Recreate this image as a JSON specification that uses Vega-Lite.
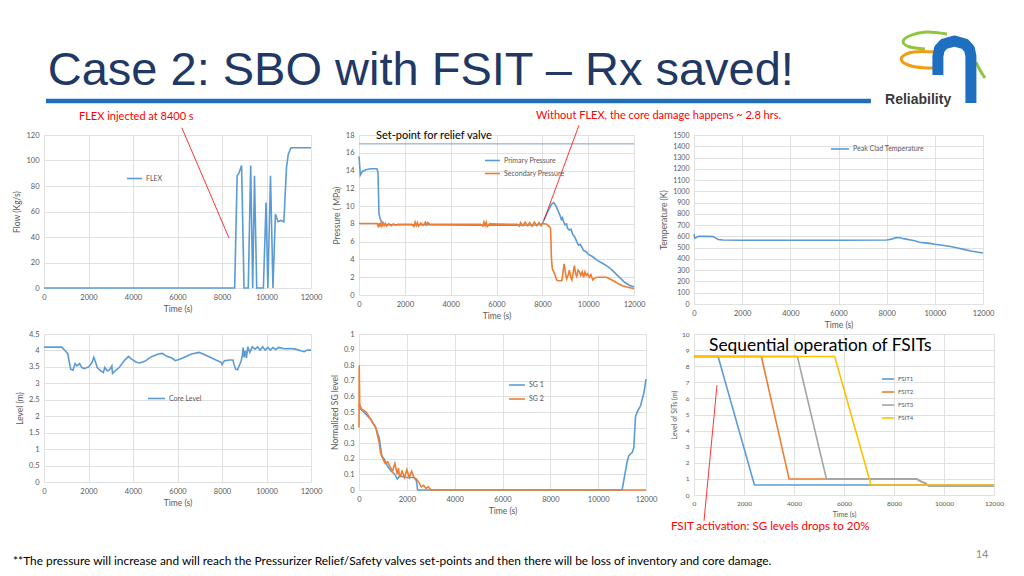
{
  "$schema": "https://vega.github.io/schema/vega-lite/v6.json",
  "background": "white",
  "padding": {"left": 12, "top": 25, "right": 5, "bottom": 5},
  "config": {
    "view": {"stroke": null},
    "axis": {"labelFont": "Lato", "titleFont": "Lato", "labelFontSize": 7.5, "titleFontSize": 8.5, "labelColor": "#595959", "titleColor": "#595959", "titleFontWeight": "normal", "gridColor": "#D9D9D9", "gridWidth": 0.8, "domain": false, "ticks": false, "labelPadding": 5, "labelFlush": false, "labelOverlap": false, "titlePadding": 4},
    "legend": {"labelFont": "Lato", "labelFontSize": 7, "labelColor": "#595959", "symbolType": "stroke", "symbolStrokeWidth": 2, "padding": 0, "labelOffset": 3},
    "line": {"strokeWidth": 1.6}
  },
  "bounds": "flush",
  "columns": 3,
  "spacing": {"row": 30, "column": 48},
  "resolve": {"scale": {"color": "independent"}, "legend": {"color": "independent"}},
  "concat": [
    {
      "width": 267, "height": 75,
      "layer": [
        {
          "data": {"values": [{"x": 0.0075, "x2": 3.097, "y": 0.053}]},
          "mark": {"type": "rule", "color": "#1E6EB8", "strokeWidth": 4.5},
          "encoding": {
            "x": {"field": "x", "type": "quantitative", "scale": {"domain": [0, 1]}, "axis": null},
            "x2": {"field": "x2"},
            "y": {"field": "y", "type": "quantitative", "scale": {"domain": [0, 1]}, "axis": null}
          }
        },
        {
          "data": {"values": [{"x": 0.014, "y": 0.267, "label": "Case 2: SBO with FSIT – Rx saved!"}]},
          "mark": {"type": "text", "align": "left", "baseline": "alphabetic", "font": "Liberation Sans", "fontSize": 47, "color": "#1F3864"},
          "encoding": {
            "x": {"field": "x", "type": "quantitative", "scale": {"domain": [0, 1]}, "axis": null},
            "y": {"field": "y", "type": "quantitative", "scale": {"domain": [0, 1]}, "axis": null},
            "text": {"field": "label"}
          }
        }
      ]
    },
    {
      "width": 10, "height": 10,
      "data": {"values": []},
      "mark": "point"
    },
    {
      "width": 300, "height": 75,
      "layer": [
        {
          "data": {"values": [
            {"k": "g", "i": 1, "x": 0.843, "y": 0.947}, {"k": "g", "i": 2, "x": 0.773, "y": 0.973}, {"k": "g", "i": 3, "x": 0.717, "y": 0.92}, {"k": "g", "i": 4, "x": 0.697, "y": 0.84}, {"k": "g", "i": 5, "x": 0.72, "y": 0.773}, {"k": "g", "i": 6, "x": 0.77, "y": 0.747},
            {"k": "g2", "i": 1, "x": 0.94, "y": 0.573}, {"k": "g2", "i": 2, "x": 0.953, "y": 0.467}, {"k": "g2", "i": 3, "x": 0.97, "y": 0.36}
          ]},
          "mark": {"type": "line", "color": "#8DC63F", "strokeWidth": 3, "interpolate": "cardinal"},
          "encoding": {
            "x": {"field": "x", "type": "quantitative", "scale": {"domain": [0, 1]}, "axis": null},
            "y": {"field": "y", "type": "quantitative", "scale": {"domain": [0, 1]}, "axis": null},
            "detail": {"field": "k"},
            "order": {"field": "i"}
          }
        },
        {
          "data": {"values": [
            {"i": 1, "x": 0.803, "y": 0.707}, {"i": 2, "x": 0.733, "y": 0.707}, {"i": 3, "x": 0.693, "y": 0.64}, {"i": 4, "x": 0.7, "y": 0.56}, {"i": 5, "x": 0.74, "y": 0.507}, {"i": 6, "x": 0.8, "y": 0.493}
          ]},
          "mark": {"type": "line", "color": "#F39C12", "strokeWidth": 3, "interpolate": "cardinal"},
          "encoding": {
            "x": {"field": "x", "type": "quantitative", "scale": {"domain": [0, 1]}, "axis": null},
            "y": {"field": "y", "type": "quantitative", "scale": {"domain": [0, 1]}, "axis": null},
            "order": {"field": "i"}
          }
        },
        {
          "data": {"values": [
            {"i": 1, "x": 0.813, "y": 0.4}, {"i": 2, "x": 0.813, "y": 0.653}, {"i": 3, "x": 0.818, "y": 0.747}, {"i": 4, "x": 0.833, "y": 0.813}, {"i": 5, "x": 0.868, "y": 0.853}, {"i": 6, "x": 0.903, "y": 0.813}, {"i": 7, "x": 0.918, "y": 0.747}, {"i": 8, "x": 0.923, "y": 0.653}, {"i": 9, "x": 0.923, "y": 0.027}
          ]},
          "mark": {"type": "line", "color": "#1F6FC0", "strokeWidth": 11, "strokeJoin": "round"},
          "encoding": {
            "x": {"field": "x", "type": "quantitative", "scale": {"domain": [0, 1]}, "axis": null},
            "y": {"field": "y", "type": "quantitative", "scale": {"domain": [0, 1]}, "axis": null},
            "order": {"field": "i"}
          }
        },
        {
          "data": {"values": [{"x": 0.747, "y": 0.067, "label": "Reliability"}]},
          "mark": {"type": "text", "align": "center", "baseline": "middle", "font": "Liberation Sans", "fontWeight": "bold", "fontSize": 14, "color": "#3A3A3A"},
          "encoding": {
            "x": {"field": "x", "type": "quantitative", "scale": {"domain": [0, 1]}, "axis": null},
            "y": {"field": "y", "type": "quantitative", "scale": {"domain": [0, 1]}, "axis": null},
            "text": {"field": "label"}
          }
        }
      ]
    },
    {
      "width": 267, "height": 153,
      "layer": [
        {
          "data": {"values": [
            {"s": "FLEX", "t": 0, "v": 0}, {"s": "FLEX", "t": 8570, "v": 0}, {"s": "FLEX", "t": 8680, "v": 88}, {"s": "FLEX", "t": 8760, "v": 90}, {"s": "FLEX", "t": 8880, "v": 96}, {"s": "FLEX", "t": 8990, "v": 0}, {"s": "FLEX", "t": 9180, "v": 0}, {"s": "FLEX", "t": 9290, "v": 96}, {"s": "FLEX", "t": 9380, "v": 0}, {"s": "FLEX", "t": 9460, "v": 88}, {"s": "FLEX", "t": 9560, "v": 0}, {"s": "FLEX", "t": 9860, "v": 0}, {"s": "FLEX", "t": 9980, "v": 67}, {"s": "FLEX", "t": 10060, "v": 0}, {"s": "FLEX", "t": 10180, "v": 88}, {"s": "FLEX", "t": 10290, "v": 0}, {"s": "FLEX", "t": 10400, "v": 58}, {"s": "FLEX", "t": 10520, "v": 52}, {"s": "FLEX", "t": 10650, "v": 53}, {"s": "FLEX", "t": 10780, "v": 52}, {"s": "FLEX", "t": 10900, "v": 95}, {"s": "FLEX", "t": 10980, "v": 105}, {"s": "FLEX", "t": 11100, "v": 110}, {"s": "FLEX", "t": 12000, "v": 110}
          ]},
          "mark": {"type": "line"},
          "encoding": {
            "x": {"field": "t", "type": "quantitative", "scale": {"domain": [0, 12000], "nice": false}, "axis": {"values": [0, 2000, 4000, 6000, 8000, 10000, 12000], "format": "d", "title": "Time (s)"}},
            "y": {"field": "v", "type": "quantitative", "scale": {"domain": [0, 120], "nice": false}, "axis": {"values": [0, 20, 40, 60, 80, 100, 120], "title": "Flow (Kg/s)"}},
            "color": {"field": "s", "type": "nominal", "scale": {"domain": ["FLEX"], "range": ["#5B9BD5"]}, "legend": {"title": null, "orient": "none", "legendX": 82, "legendY": 35, "symbolSize": 225}}
          }
        },
        {
          "data": {"values": [{"t": 6200, "v": 125.5, "t2": 8315, "v2": 39.2}]},
          "mark": {"type": "rule", "color": "#FF0000", "strokeWidth": 0.8},
          "encoding": {
            "x": {"field": "t", "type": "quantitative", "scale": {"domain": [0, 12000], "nice": false}, "axis": {"values": [0, 2000, 4000, 6000, 8000, 10000, 12000], "format": "d", "title": "Time (s)"}},
            "y": {"field": "v", "type": "quantitative", "scale": {"domain": [0, 120], "nice": false}, "axis": {"values": [0, 20, 40, 60, 80, 100, 120], "title": "Flow (Kg/s)"}},
            "x2": {"field": "t2"}, "y2": {"field": "v2"}
          }
        },
        {
          "data": {"values": [{"t": 1573, "v": 134.1, "label": "FLEX injected at 8400 s"}]},
          "mark": {"type": "text", "align": "left", "baseline": "middle", "font": "Lato", "fontSize": 11, "color": "#FF0000"},
          "encoding": {
            "x": {"field": "t", "type": "quantitative", "scale": {"domain": [0, 12000], "nice": false}, "axis": {"values": [0, 2000, 4000, 6000, 8000, 10000, 12000], "format": "d", "title": "Time (s)"}},
            "y": {"field": "v", "type": "quantitative", "scale": {"domain": [0, 120], "nice": false}, "axis": {"values": [0, 20, 40, 60, 80, 100, 120], "title": "Flow (Kg/s)"}},
            "text": {"field": "label"}
          }
        }
      ]
    },
    {
      "width": 275, "height": 160,
      "resolve": {"scale": {"color": "independent"}, "legend": {"color": "independent"}},
      "layer": [
        {
          "data": {"values": [{"p": 17}]},
          "mark": {"type": "rule", "color": "#7F9FBF", "strokeWidth": 1},
          "encoding": {"y": {"field": "p", "type": "quantitative", "scale": {"domain": [0, 18], "nice": false}, "axis": {"values": [0, 2, 4, 6, 8, 10, 12, 14, 16, 18], "title": "Pressure ( MPa)"}}}
        },
        {
          "data": {"values": [
            {"s": "Primary Pressure", "t": 0, "v": 15.6}, {"s": "Primary Pressure", "t": 60, "v": 13.5}, {"s": "Primary Pressure", "t": 150, "v": 13.9}, {"s": "Primary Pressure", "t": 300, "v": 14.1}, {"s": "Primary Pressure", "t": 500, "v": 14.2}, {"s": "Primary Pressure", "t": 780, "v": 14.2}, {"s": "Primary Pressure", "t": 830, "v": 13.8}, {"s": "Primary Pressure", "t": 870, "v": 9.2}, {"s": "Primary Pressure", "t": 920, "v": 8.6}, {"s": "Primary Pressure", "t": 1000, "v": 8.2}, {"s": "Primary Pressure", "t": 1100, "v": 7.95}, {"s": "Primary Pressure", "t": 1500, "v": 7.9}, {"s": "Primary Pressure", "t": 3000, "v": 7.9}, {"s": "Primary Pressure", "t": 5000, "v": 7.85}, {"s": "Primary Pressure", "t": 7000, "v": 7.85}, {"s": "Primary Pressure", "t": 7900, "v": 7.9}, {"s": "Primary Pressure", "t": 8000, "v": 8.0}, {"s": "Primary Pressure", "t": 8050, "v": 8.3}, {"s": "Primary Pressure", "t": 8200, "v": 9.2}, {"s": "Primary Pressure", "t": 8400, "v": 10.2}, {"s": "Primary Pressure", "t": 8500, "v": 10.4}, {"s": "Primary Pressure", "t": 8600, "v": 10.0}, {"s": "Primary Pressure", "t": 8700, "v": 9.4}, {"s": "Primary Pressure", "t": 8780, "v": 8.9}, {"s": "Primary Pressure", "t": 8830, "v": 8.5}, {"s": "Primary Pressure", "t": 8880, "v": 8.7}, {"s": "Primary Pressure", "t": 8920, "v": 8.3}, {"s": "Primary Pressure", "t": 8990, "v": 7.9}, {"s": "Primary Pressure", "t": 9060, "v": 8.0}, {"s": "Primary Pressure", "t": 9100, "v": 7.5}, {"s": "Primary Pressure", "t": 9180, "v": 7.3}, {"s": "Primary Pressure", "t": 9250, "v": 7.4}, {"s": "Primary Pressure", "t": 9330, "v": 6.8}, {"s": "Primary Pressure", "t": 9420, "v": 6.5}, {"s": "Primary Pressure", "t": 9500, "v": 6.0}, {"s": "Primary Pressure", "t": 9580, "v": 5.6}, {"s": "Primary Pressure", "t": 9650, "v": 5.7}, {"s": "Primary Pressure", "t": 9720, "v": 5.4}, {"s": "Primary Pressure", "t": 9800, "v": 5.0}, {"s": "Primary Pressure", "t": 9900, "v": 4.9}, {"s": "Primary Pressure", "t": 10000, "v": 4.6}, {"s": "Primary Pressure", "t": 10200, "v": 4.3}, {"s": "Primary Pressure", "t": 10400, "v": 3.9}, {"s": "Primary Pressure", "t": 10600, "v": 3.6}, {"s": "Primary Pressure", "t": 10800, "v": 3.3}, {"s": "Primary Pressure", "t": 11000, "v": 2.9}, {"s": "Primary Pressure", "t": 11200, "v": 2.4}, {"s": "Primary Pressure", "t": 11400, "v": 1.9}, {"s": "Primary Pressure", "t": 11600, "v": 1.4}, {"s": "Primary Pressure", "t": 11800, "v": 1.1}, {"s": "Primary Pressure", "t": 12000, "v": 0.9},
            {"s": "Secondary Pressure", "t": 0, "v": 8.05}, {"s": "Secondary Pressure", "t": 800, "v": 8.05}, {"s": "Secondary Pressure", "t": 850, "v": 7.6}, {"s": "Secondary Pressure", "t": 880, "v": 8.1}, {"s": "Secondary Pressure", "t": 920, "v": 7.7}, {"s": "Secondary Pressure", "t": 960, "v": 8.1}, {"s": "Secondary Pressure", "t": 1000, "v": 7.75}, {"s": "Secondary Pressure", "t": 1050, "v": 8.1}, {"s": "Secondary Pressure", "t": 1100, "v": 7.8}, {"s": "Secondary Pressure", "t": 1150, "v": 8.05}, {"s": "Secondary Pressure", "t": 1200, "v": 7.75}, {"s": "Secondary Pressure", "t": 1300, "v": 8.0}, {"s": "Secondary Pressure", "t": 1400, "v": 7.8}, {"s": "Secondary Pressure", "t": 1500, "v": 8.0}, {"s": "Secondary Pressure", "t": 1600, "v": 7.85}, {"s": "Secondary Pressure", "t": 1700, "v": 7.95}, {"s": "Secondary Pressure", "t": 2300, "v": 7.95}, {"s": "Secondary Pressure", "t": 2400, "v": 7.7}, {"s": "Secondary Pressure", "t": 2450, "v": 8.2}, {"s": "Secondary Pressure", "t": 2500, "v": 7.8}, {"s": "Secondary Pressure", "t": 2550, "v": 8.15}, {"s": "Secondary Pressure", "t": 2600, "v": 7.75}, {"s": "Secondary Pressure", "t": 2700, "v": 8.1}, {"s": "Secondary Pressure", "t": 2800, "v": 7.85}, {"s": "Secondary Pressure", "t": 2900, "v": 8.2}, {"s": "Secondary Pressure", "t": 2950, "v": 7.9}, {"s": "Secondary Pressure", "t": 3000, "v": 8.15}, {"s": "Secondary Pressure", "t": 3100, "v": 7.95}, {"s": "Secondary Pressure", "t": 5300, "v": 7.95}, {"s": "Secondary Pressure", "t": 5400, "v": 7.75}, {"s": "Secondary Pressure", "t": 5450, "v": 8.2}, {"s": "Secondary Pressure", "t": 5500, "v": 7.8}, {"s": "Secondary Pressure", "t": 5550, "v": 8.2}, {"s": "Secondary Pressure", "t": 5600, "v": 7.7}, {"s": "Secondary Pressure", "t": 5700, "v": 8.0}, {"s": "Secondary Pressure", "t": 6900, "v": 7.95}, {"s": "Secondary Pressure", "t": 7000, "v": 7.75}, {"s": "Secondary Pressure", "t": 7050, "v": 8.15}, {"s": "Secondary Pressure", "t": 7150, "v": 7.8}, {"s": "Secondary Pressure", "t": 7250, "v": 8.2}, {"s": "Secondary Pressure", "t": 7350, "v": 7.8}, {"s": "Secondary Pressure", "t": 7450, "v": 8.15}, {"s": "Secondary Pressure", "t": 7550, "v": 7.75}, {"s": "Secondary Pressure", "t": 7650, "v": 8.2}, {"s": "Secondary Pressure", "t": 7750, "v": 7.8}, {"s": "Secondary Pressure", "t": 7850, "v": 8.15}, {"s": "Secondary Pressure", "t": 7950, "v": 7.8}, {"s": "Secondary Pressure", "t": 8000, "v": 8.05}, {"s": "Secondary Pressure", "t": 8200, "v": 7.95}, {"s": "Secondary Pressure", "t": 8300, "v": 7.7}, {"s": "Secondary Pressure", "t": 8360, "v": 7.5}, {"s": "Secondary Pressure", "t": 8400, "v": 4.0}, {"s": "Secondary Pressure", "t": 8440, "v": 2.9}, {"s": "Secondary Pressure", "t": 8500, "v": 2.6}, {"s": "Secondary Pressure", "t": 8560, "v": 2.2}, {"s": "Secondary Pressure", "t": 8620, "v": 1.7}, {"s": "Secondary Pressure", "t": 8700, "v": 1.6}, {"s": "Secondary Pressure", "t": 8850, "v": 1.6}, {"s": "Secondary Pressure", "t": 8950, "v": 3.5}, {"s": "Secondary Pressure", "t": 9020, "v": 2.3}, {"s": "Secondary Pressure", "t": 9060, "v": 1.8}, {"s": "Secondary Pressure", "t": 9120, "v": 2.2}, {"s": "Secondary Pressure", "t": 9180, "v": 2.8}, {"s": "Secondary Pressure", "t": 9240, "v": 2.0}, {"s": "Secondary Pressure", "t": 9290, "v": 1.7}, {"s": "Secondary Pressure", "t": 9350, "v": 2.6}, {"s": "Secondary Pressure", "t": 9400, "v": 3.3}, {"s": "Secondary Pressure", "t": 9450, "v": 2.4}, {"s": "Secondary Pressure", "t": 9500, "v": 2.1}, {"s": "Secondary Pressure", "t": 9560, "v": 2.8}, {"s": "Secondary Pressure", "t": 9620, "v": 2.6}, {"s": "Secondary Pressure", "t": 9680, "v": 2.2}, {"s": "Secondary Pressure", "t": 9740, "v": 2.6}, {"s": "Secondary Pressure", "t": 9800, "v": 2.0}, {"s": "Secondary Pressure", "t": 9860, "v": 2.6}, {"s": "Secondary Pressure", "t": 9920, "v": 2.2}, {"s": "Secondary Pressure", "t": 9980, "v": 2.4}, {"s": "Secondary Pressure", "t": 10050, "v": 2.0}, {"s": "Secondary Pressure", "t": 10120, "v": 2.3}, {"s": "Secondary Pressure", "t": 10200, "v": 1.7}, {"s": "Secondary Pressure", "t": 10280, "v": 1.9}, {"s": "Secondary Pressure", "t": 10400, "v": 2.0}, {"s": "Secondary Pressure", "t": 10800, "v": 2.0}, {"s": "Secondary Pressure", "t": 10950, "v": 1.8}, {"s": "Secondary Pressure", "t": 11100, "v": 1.6}, {"s": "Secondary Pressure", "t": 11300, "v": 1.3}, {"s": "Secondary Pressure", "t": 11500, "v": 1.05}, {"s": "Secondary Pressure", "t": 11700, "v": 0.9}, {"s": "Secondary Pressure", "t": 12000, "v": 0.7}
          ]},
          "mark": {"type": "line"},
          "encoding": {
            "x": {"field": "t", "type": "quantitative", "scale": {"domain": [0, 12000], "nice": false}, "axis": {"values": [0, 2000, 4000, 6000, 8000, 10000, 12000], "format": "d", "title": "Time (s)"}},
            "y": {"field": "v", "type": "quantitative", "scale": {"domain": [0, 18], "nice": false}, "axis": {"values": [0, 2, 4, 6, 8, 10, 12, 14, 16, 18], "title": "Pressure ( MPa)"}},
            "color": {"field": "s", "type": "nominal", "scale": {"domain": ["Primary Pressure", "Secondary Pressure"], "range": ["#5B9BD5", "#ED7D31"]}, "legend": {"title": null, "orient": "none", "legendX": 125, "legendY": 17, "symbolSize": 225, "rowPadding": 1}}
          }
        },
        {
          "data": {"values": [{"t": 9600, "v": 19.1, "t2": 8073, "v2": 8.44}]},
          "mark": {"type": "rule", "color": "#FF0000", "strokeWidth": 0.8},
          "encoding": {
            "x": {"field": "t", "type": "quantitative", "scale": {"domain": [0, 12000], "nice": false}, "axis": {"values": [0, 2000, 4000, 6000, 8000, 10000, 12000], "format": "d", "title": "Time (s)"}},
            "y": {"field": "v", "type": "quantitative", "scale": {"domain": [0, 18], "nice": false}, "axis": {"values": [0, 2, 4, 6, 8, 10, 12, 14, 16, 18], "title": "Pressure ( MPa)"}},
            "x2": {"field": "t2"}, "y2": {"field": "v2"}
          }
        },
        {
          "data": {"values": [{"t": 7724, "v": 20.1, "label": "Without FLEX, the core damage happens ~ 2.8 hrs.", "c": "red"}, {"t": 742, "v": 17.9, "label": "Set-point for relief valve", "c": "black"}]},
          "mark": {"type": "text", "align": "left", "baseline": "middle", "font": "Lato", "fontSize": 11},
          "encoding": {
            "x": {"field": "t", "type": "quantitative", "scale": {"domain": [0, 12000], "nice": false}, "axis": {"values": [0, 2000, 4000, 6000, 8000, 10000, 12000], "format": "d", "title": "Time (s)"}},
            "y": {"field": "v", "type": "quantitative", "scale": {"domain": [0, 18], "nice": false}, "axis": {"values": [0, 2, 4, 6, 8, 10, 12, 14, 16, 18], "title": "Pressure ( MPa)"}},
            "text": {"field": "label"},
            "color": {"field": "c", "type": "nominal", "scale": {"domain": ["red", "black"], "range": ["#FF0000", "#000000"]}, "legend": null}
          }
        }
      ]
    },
    {
      "width": 289, "height": 169,
      "layer": [
        {
          "data": {"values": [
            {"s": "Peak Clad Temperature", "t": 0, "v": 620}, {"s": "Peak Clad Temperature", "t": 30, "v": 585}, {"s": "Peak Clad Temperature", "t": 100, "v": 590}, {"s": "Peak Clad Temperature", "t": 200, "v": 600}, {"s": "Peak Clad Temperature", "t": 500, "v": 600}, {"s": "Peak Clad Temperature", "t": 800, "v": 598}, {"s": "Peak Clad Temperature", "t": 900, "v": 585}, {"s": "Peak Clad Temperature", "t": 1000, "v": 572}, {"s": "Peak Clad Temperature", "t": 1200, "v": 568}, {"s": "Peak Clad Temperature", "t": 2000, "v": 566}, {"s": "Peak Clad Temperature", "t": 4000, "v": 566}, {"s": "Peak Clad Temperature", "t": 6000, "v": 566}, {"s": "Peak Clad Temperature", "t": 8000, "v": 568}, {"s": "Peak Clad Temperature", "t": 8200, "v": 576}, {"s": "Peak Clad Temperature", "t": 8400, "v": 590}, {"s": "Peak Clad Temperature", "t": 8550, "v": 588}, {"s": "Peak Clad Temperature", "t": 8700, "v": 580}, {"s": "Peak Clad Temperature", "t": 9000, "v": 568}, {"s": "Peak Clad Temperature", "t": 9200, "v": 560}, {"s": "Peak Clad Temperature", "t": 9350, "v": 548}, {"s": "Peak Clad Temperature", "t": 9500, "v": 545}, {"s": "Peak Clad Temperature", "t": 9800, "v": 538}, {"s": "Peak Clad Temperature", "t": 10000, "v": 530}, {"s": "Peak Clad Temperature", "t": 10300, "v": 522}, {"s": "Peak Clad Temperature", "t": 10600, "v": 512}, {"s": "Peak Clad Temperature", "t": 10900, "v": 500}, {"s": "Peak Clad Temperature", "t": 11200, "v": 485}, {"s": "Peak Clad Temperature", "t": 11500, "v": 470}, {"s": "Peak Clad Temperature", "t": 11800, "v": 460}, {"s": "Peak Clad Temperature", "t": 12000, "v": 452}
          ]},
          "mark": {"type": "line"},
          "encoding": {
            "x": {"field": "t", "type": "quantitative", "scale": {"domain": [0, 12000], "nice": false}, "axis": {"values": [0, 2000, 4000, 6000, 8000, 10000, 12000], "format": "d", "title": "Time (s)"}},
            "y": {"field": "v", "type": "quantitative", "scale": {"domain": [0, 1500], "nice": false}, "axis": {"values": [0, 100, 200, 300, 400, 500, 600, 700, 800, 900, 1000, 1100, 1200, 1300, 1400, 1500], "format": "d", "title": "Temperature (K)", "labelFontSize": 7}},
            "color": {"field": "s", "type": "nominal", "scale": {"domain": ["Peak Clad Temperature"], "range": ["#5B9BD5"]}, "legend": {"title": null, "orient": "none", "legendX": 136, "legendY": 4, "symbolSize": 324}}
          }
        }
      ]
    },
    {
      "width": 267, "height": 148,
      "layer": [
        {
          "data": {"values": [
            {"s": "Core Level", "t": 0, "v": 4.1}, {"s": "Core Level", "t": 800, "v": 4.1}, {"s": "Core Level", "t": 940, "v": 4.0}, {"s": "Core Level", "t": 1070, "v": 3.9}, {"s": "Core Level", "t": 1140, "v": 3.64}, {"s": "Core Level", "t": 1200, "v": 3.43}, {"s": "Core Level", "t": 1300, "v": 3.4}, {"s": "Core Level", "t": 1400, "v": 3.6}, {"s": "Core Level", "t": 1480, "v": 3.53}, {"s": "Core Level", "t": 1600, "v": 3.6}, {"s": "Core Level", "t": 1700, "v": 3.48}, {"s": "Core Level", "t": 1810, "v": 3.45}, {"s": "Core Level", "t": 2010, "v": 3.5}, {"s": "Core Level", "t": 2160, "v": 3.64}, {"s": "Core Level", "t": 2240, "v": 3.79}, {"s": "Core Level", "t": 2320, "v": 3.64}, {"s": "Core Level", "t": 2390, "v": 3.48}, {"s": "Core Level", "t": 2550, "v": 3.38}, {"s": "Core Level", "t": 2670, "v": 3.33}, {"s": "Core Level", "t": 2730, "v": 3.48}, {"s": "Core Level", "t": 2850, "v": 3.38}, {"s": "Core Level", "t": 2970, "v": 3.43}, {"s": "Core Level", "t": 3050, "v": 3.53}, {"s": "Core Level", "t": 3080, "v": 3.3}, {"s": "Core Level", "t": 3230, "v": 3.4}, {"s": "Core Level", "t": 3380, "v": 3.48}, {"s": "Core Level", "t": 3610, "v": 3.69}, {"s": "Core Level", "t": 3800, "v": 3.82}, {"s": "Core Level", "t": 3920, "v": 3.74}, {"s": "Core Level", "t": 4150, "v": 3.64}, {"s": "Core Level", "t": 4300, "v": 3.62}, {"s": "Core Level", "t": 4530, "v": 3.67}, {"s": "Core Level", "t": 4830, "v": 3.81}, {"s": "Core Level", "t": 5140, "v": 3.89}, {"s": "Core Level", "t": 5320, "v": 3.91}, {"s": "Core Level", "t": 5520, "v": 3.82}, {"s": "Core Level", "t": 5750, "v": 3.77}, {"s": "Core Level", "t": 5900, "v": 3.69}, {"s": "Core Level", "t": 6130, "v": 3.74}, {"s": "Core Level", "t": 6360, "v": 3.81}, {"s": "Core Level", "t": 6630, "v": 3.89}, {"s": "Core Level", "t": 6970, "v": 3.94}, {"s": "Core Level", "t": 7150, "v": 3.89}, {"s": "Core Level", "t": 7420, "v": 3.81}, {"s": "Core Level", "t": 7730, "v": 3.71}, {"s": "Core Level", "t": 7960, "v": 3.64}, {"s": "Core Level", "t": 8000, "v": 3.57}, {"s": "Core Level", "t": 8110, "v": 3.69}, {"s": "Core Level", "t": 8340, "v": 3.71}, {"s": "Core Level", "t": 8490, "v": 3.71}, {"s": "Core Level", "t": 8540, "v": 3.58}, {"s": "Core Level", "t": 8610, "v": 3.43}, {"s": "Core Level", "t": 8700, "v": 3.41}, {"s": "Core Level", "t": 8800, "v": 3.58}, {"s": "Core Level", "t": 8870, "v": 3.69}, {"s": "Core Level", "t": 8920, "v": 3.89}, {"s": "Core Level", "t": 8950, "v": 4.09}, {"s": "Core Level", "t": 8990, "v": 3.79}, {"s": "Core Level", "t": 9050, "v": 3.99}, {"s": "Core Level", "t": 9100, "v": 3.77}, {"s": "Core Level", "t": 9160, "v": 4.11}, {"s": "Core Level", "t": 9250, "v": 3.94}, {"s": "Core Level", "t": 9360, "v": 4.11}, {"s": "Core Level", "t": 9480, "v": 4.04}, {"s": "Core Level", "t": 9600, "v": 4.11}, {"s": "Core Level", "t": 9710, "v": 4.01}, {"s": "Core Level", "t": 9830, "v": 4.11}, {"s": "Core Level", "t": 9940, "v": 4.01}, {"s": "Core Level", "t": 10060, "v": 4.09}, {"s": "Core Level", "t": 10170, "v": 4.01}, {"s": "Core Level", "t": 10290, "v": 4.09}, {"s": "Core Level", "t": 10410, "v": 4.03}, {"s": "Core Level", "t": 10550, "v": 4.09}, {"s": "Core Level", "t": 10780, "v": 4.05}, {"s": "Core Level", "t": 11080, "v": 4.06}, {"s": "Core Level", "t": 11310, "v": 4.04}, {"s": "Core Level", "t": 11540, "v": 3.99}, {"s": "Core Level", "t": 11690, "v": 3.96}, {"s": "Core Level", "t": 11840, "v": 4.01}, {"s": "Core Level", "t": 12000, "v": 4.01}
          ]},
          "mark": {"type": "line"},
          "encoding": {
            "x": {"field": "t", "type": "quantitative", "scale": {"domain": [0, 12000], "nice": false}, "axis": {"values": [0, 2000, 4000, 6000, 8000, 10000, 12000], "format": "d", "title": "Time (s)"}},
            "y": {"field": "v", "type": "quantitative", "scale": {"domain": [0, 4.5], "nice": false}, "axis": {"values": [0, 0.5, 1, 1.5, 2, 2.5, 3, 3.5, 4, 4.5], "format": "~g", "title": "Level (m)"}},
            "color": {"field": "s", "type": "nominal", "scale": {"domain": ["Core Level"], "range": ["#5B9BD5"]}, "legend": {"title": null, "orient": "none", "legendX": 103, "legendY": 55, "symbolSize": 289}}
          }
        }
      ]
    },
    {
      "width": 287, "height": 156,
      "layer": [
        {
          "data": {"values": [
            {"s": "SG 1", "t": 0, "v": 0.55}, {"s": "SG 1", "t": 50, "v": 0.52}, {"s": "SG 1", "t": 200, "v": 0.5}, {"s": "SG 1", "t": 500, "v": 0.45}, {"s": "SG 1", "t": 700, "v": 0.4}, {"s": "SG 1", "t": 850, "v": 0.33}, {"s": "SG 1", "t": 950, "v": 0.22}, {"s": "SG 1", "t": 1050, "v": 0.2}, {"s": "SG 1", "t": 1200, "v": 0.15}, {"s": "SG 1", "t": 1350, "v": 0.12}, {"s": "SG 1", "t": 1500, "v": 0.1}, {"s": "SG 1", "t": 1600, "v": 0.07}, {"s": "SG 1", "t": 1700, "v": 0.09}, {"s": "SG 1", "t": 2000, "v": 0.08}, {"s": "SG 1", "t": 2300, "v": 0.08}, {"s": "SG 1", "t": 2400, "v": 0.06}, {"s": "SG 1", "t": 2450, "v": 0}, {"s": "SG 1", "t": 11000, "v": 0}, {"s": "SG 1", "t": 11210, "v": 0.18}, {"s": "SG 1", "t": 11280, "v": 0.22}, {"s": "SG 1", "t": 11420, "v": 0.24}, {"s": "SG 1", "t": 11490, "v": 0.27}, {"s": "SG 1", "t": 11560, "v": 0.47}, {"s": "SG 1", "t": 11630, "v": 0.5}, {"s": "SG 1", "t": 11770, "v": 0.54}, {"s": "SG 1", "t": 11910, "v": 0.62}, {"s": "SG 1", "t": 12000, "v": 0.71},
            {"s": "SG 2", "t": 0, "v": 0.4}, {"s": "SG 2", "t": 10, "v": 0.8}, {"s": "SG 2", "t": 30, "v": 0.55}, {"s": "SG 2", "t": 100, "v": 0.52}, {"s": "SG 2", "t": 300, "v": 0.5}, {"s": "SG 2", "t": 500, "v": 0.45}, {"s": "SG 2", "t": 700, "v": 0.4}, {"s": "SG 2", "t": 850, "v": 0.3}, {"s": "SG 2", "t": 900, "v": 0.24}, {"s": "SG 2", "t": 1000, "v": 0.2}, {"s": "SG 2", "t": 1100, "v": 0.17}, {"s": "SG 2", "t": 1200, "v": 0.18}, {"s": "SG 2", "t": 1300, "v": 0.15}, {"s": "SG 2", "t": 1400, "v": 0.12}, {"s": "SG 2", "t": 1500, "v": 0.17}, {"s": "SG 2", "t": 1600, "v": 0.1}, {"s": "SG 2", "t": 1650, "v": 0.14}, {"s": "SG 2", "t": 1700, "v": 0.08}, {"s": "SG 2", "t": 1800, "v": 0.12}, {"s": "SG 2", "t": 1900, "v": 0.08}, {"s": "SG 2", "t": 2000, "v": 0.13}, {"s": "SG 2", "t": 2100, "v": 0.08}, {"s": "SG 2", "t": 2200, "v": 0.12}, {"s": "SG 2", "t": 2300, "v": 0.08}, {"s": "SG 2", "t": 2400, "v": 0.07}, {"s": "SG 2", "t": 2500, "v": 0.05}, {"s": "SG 2", "t": 2600, "v": 0.02}, {"s": "SG 2", "t": 2700, "v": 0.03}, {"s": "SG 2", "t": 2800, "v": 0.01}, {"s": "SG 2", "t": 2900, "v": 0.02}, {"s": "SG 2", "t": 3000, "v": 0}, {"s": "SG 2", "t": 12000, "v": 0}
          ]},
          "mark": {"type": "line"},
          "encoding": {
            "x": {"field": "t", "type": "quantitative", "scale": {"domain": [0, 12000], "nice": false}, "axis": {"values": [0, 2000, 4000, 6000, 8000, 10000, 12000], "format": "d", "title": "Time (s)"}},
            "y": {"field": "v", "type": "quantitative", "scale": {"domain": [0, 1], "nice": false}, "axis": {"values": [0, 0.1, 0.2, 0.3, 0.4, 0.5, 0.6, 0.7, 0.8, 0.9, 1], "format": "~g", "title": "Normalized SG level"}},
            "color": {"field": "s", "type": "nominal", "scale": {"domain": ["SG 1", "SG 2"], "range": ["#5B9BD5", "#ED7D31"]}, "legend": {"title": null, "orient": "none", "legendX": 149, "legendY": 42, "symbolSize": 256, "rowPadding": 1}}
          }
        }
      ]
    },
    {
      "width": 300, "height": 161,
      "layer": [
        {
          "data": {"values": [
            {"s": "FSIT1", "t": 0, "v": 8.6}, {"s": "FSIT1", "t": 964, "v": 8.6}, {"s": "FSIT1", "t": 2417, "v": 0.62}, {"s": "FSIT1", "t": 12000, "v": 0.62},
            {"s": "FSIT2", "t": 0, "v": 8.6}, {"s": "FSIT2", "t": 2695, "v": 8.6}, {"s": "FSIT2", "t": 3804, "v": 0.99}, {"s": "FSIT2", "t": 8900, "v": 0.99}, {"s": "FSIT2", "t": 9150, "v": 0.8}, {"s": "FSIT2", "t": 9400, "v": 0.55}, {"s": "FSIT2", "t": 12000, "v": 0.55},
            {"s": "FSIT3", "t": 0, "v": 8.6}, {"s": "FSIT3", "t": 4135, "v": 8.6}, {"s": "FSIT3", "t": 5297, "v": 1.0}, {"s": "FSIT3", "t": 8900, "v": 1.0}, {"s": "FSIT3", "t": 9100, "v": 0.8}, {"s": "FSIT3", "t": 9250, "v": 0.75}, {"s": "FSIT3", "t": 9400, "v": 0.55}, {"s": "FSIT3", "t": 12000, "v": 0.55},
            {"s": "FSIT4", "t": 0, "v": 8.6}, {"s": "FSIT4", "t": 5628, "v": 8.6}, {"s": "FSIT4", "t": 7081, "v": 0.62}, {"s": "FSIT4", "t": 12000, "v": 0.62}
          ]},
          "mark": {"type": "line"},
          "encoding": {
            "x": {"field": "t", "type": "quantitative", "scale": {"domain": [0, 12000], "nice": false}, "axis": {"values": [0, 2000, 4000, 6000, 8000, 10000, 12000], "format": "d", "title": "Time (s)", "labelFontSize": 6.5, "titleFontSize": 7}},
            "y": {"field": "v", "type": "quantitative", "scale": {"domain": [0, 10], "nice": false}, "axis": {"values": [0, 1, 2, 3, 4, 5, 6, 7, 8, 9, 10], "title": "Level of SITs (m)", "labelFontSize": 6.5, "titleFontSize": 7}},
            "color": {"field": "s", "type": "nominal", "scale": {"domain": ["FSIT1", "FSIT2", "FSIT3", "FSIT4"], "range": ["#5B9BD5", "#ED7D31", "#A5A5A5", "#FFC000"]}, "legend": {"title": null, "orient": "none", "legendX": 187, "legendY": 38, "symbolSize": 144, "rowPadding": 2, "labelFontSize": 6}}
          }
        },
        {
          "data": {"values": [{"t": 920, "v": 6.83, "t2": 400, "v2": -1.61}]},
          "mark": {"type": "rule", "color": "#FF0000", "strokeWidth": 0.8},
          "encoding": {
            "x": {"field": "t", "type": "quantitative", "scale": {"domain": [0, 12000], "nice": false}, "axis": {"values": [0, 2000, 4000, 6000, 8000, 10000, 12000], "format": "d", "title": "Time (s)", "labelFontSize": 6.5, "titleFontSize": 7}},
            "y": {"field": "v", "type": "quantitative", "scale": {"domain": [0, 10], "nice": false}, "axis": {"values": [0, 1, 2, 3, 4, 5, 6, 7, 8, 9, 10], "title": "Level of SITs (m)", "labelFontSize": 6.5, "titleFontSize": 7}},
            "x2": {"field": "t2"}, "y2": {"field": "v2"}
          }
        },
        {
          "data": {"values": [{"t": -920, "v": -1.99, "label": "FSIT activation: SG levels drops to 20%"}, {"t": 600, "v": 9.25, "label": "Sequential operation of FSITs"}]},
          "mark": {"type": "text", "align": "left", "baseline": "middle", "font": "Lato"},
          "encoding": {
            "x": {"field": "t", "type": "quantitative", "scale": {"domain": [0, 12000], "nice": false}, "axis": {"values": [0, 2000, 4000, 6000, 8000, 10000, 12000], "format": "d", "title": "Time (s)", "labelFontSize": 6.5, "titleFontSize": 7}},
            "y": {"field": "v", "type": "quantitative", "scale": {"domain": [0, 10], "nice": false}, "axis": {"values": [0, 1, 2, 3, 4, 5, 6, 7, 8, 9, 10], "title": "Level of SITs (m)", "labelFontSize": 6.5, "titleFontSize": 7}},
            "text": {"field": "label"},
            "color": {"field": "label", "type": "nominal", "scale": {"domain": ["FSIT activation: SG levels drops to 20%", "Sequential operation of FSITs"], "range": ["#FF0000", "#000000"]}, "legend": null},
            "size": {"field": "label", "type": "nominal", "scale": {"domain": ["FSIT activation: SG levels drops to 20%", "Sequential operation of FSITs"], "range": [11.6, 17.4]}, "legend": null}
          }
        }
      ],
      "resolve": {"scale": {"color": "independent"}, "legend": {"color": "independent"}}
    },
    {
      "width": 267, "height": 45,
      "layer": [
        {
          "data": {"values": [{"x": -0.116, "y": 0.2, "label": "**The pressure will increase and will reach the Pressurizer Relief/Safety valves set-points and then there will be loss of inventory and core damage."}]},
          "mark": {"type": "text", "align": "left", "baseline": "middle", "font": "Lato", "fontSize": 11.9, "color": "#000000"},
          "encoding": {
            "x": {"field": "x", "type": "quantitative", "scale": {"domain": [0, 1]}, "axis": null},
            "y": {"field": "y", "type": "quantitative", "scale": {"domain": [0, 1]}, "axis": null},
            "text": {"field": "label"}
          }
        }
      ]
    },
    {
      "width": 10, "height": 10,
      "data": {"values": []},
      "mark": "point"
    },
    {
      "width": 300, "height": 45,
      "layer": [
        {
          "data": {"values": [{"x": 0.96, "y": 0.333, "label": "14"}]},
          "mark": {"type": "text", "align": "center", "baseline": "middle", "font": "Lato", "fontSize": 11, "color": "#8C8C8C"},
          "encoding": {
            "x": {"field": "x", "type": "quantitative", "scale": {"domain": [0, 1]}, "axis": null},
            "y": {"field": "y", "type": "quantitative", "scale": {"domain": [0, 1]}, "axis": null},
            "text": {"field": "label"}
          }
        }
      ]
    }
  ]
}
